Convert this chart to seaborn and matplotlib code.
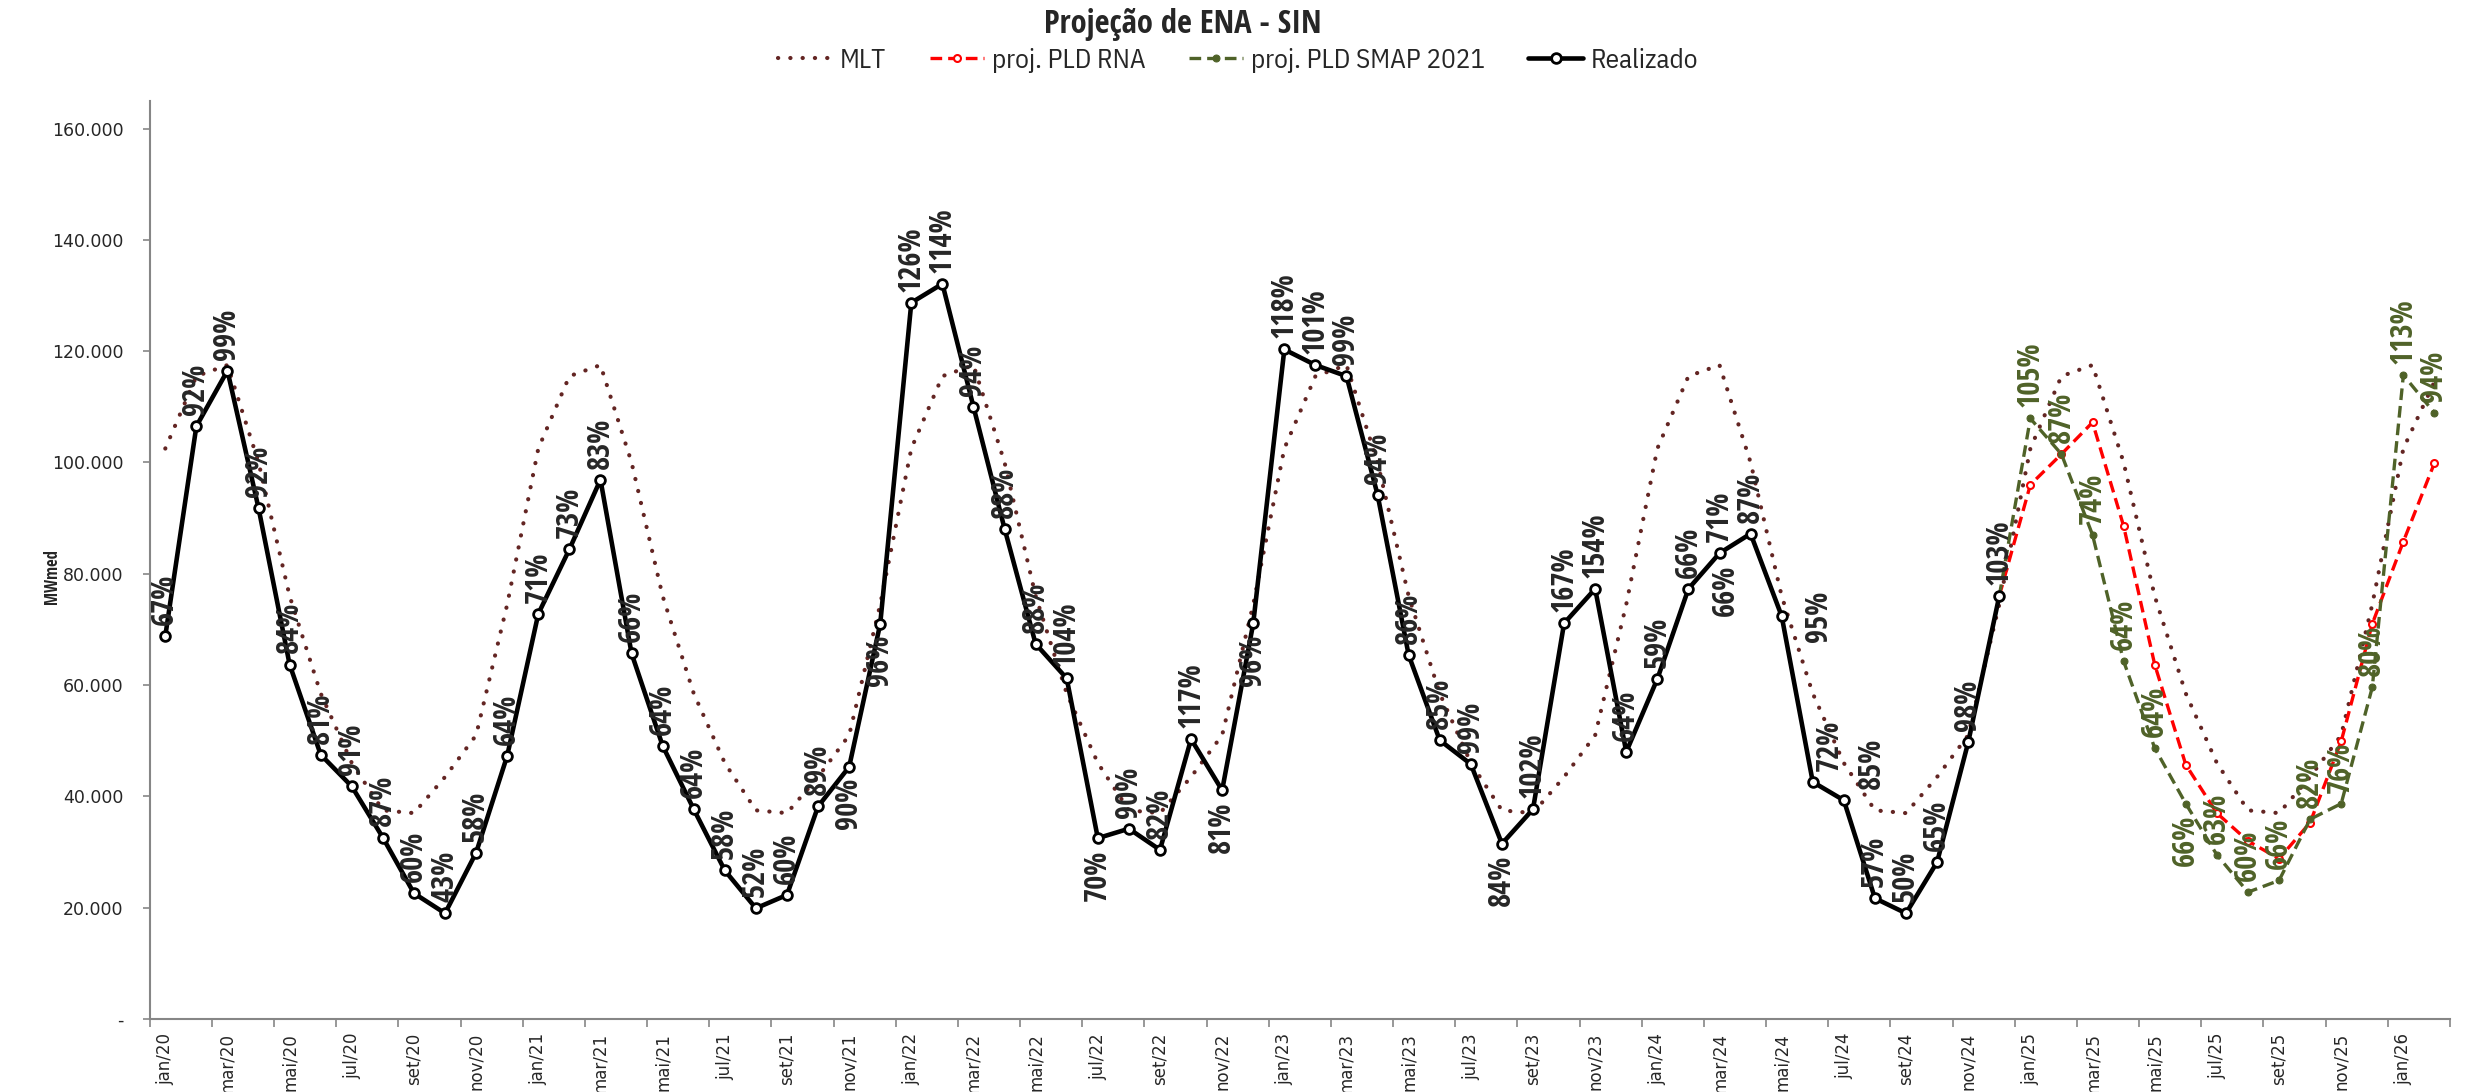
import numpy as np
import pandas as pd
import seaborn as sns
import matplotlib.pyplot as plt
from matplotlib import font_manager

sns.set_style('white')
plt.rcParams['font.family'] = ['DejaVu Sans']

# fontes estreitas (parecidas com as do Excel)
disponiveis = {f.name for f in font_manager.fontManager.ttflist}
def escolhe(*nomes):
    return [n for n in nomes if n in disponiveis] + ['DejaVu Sans']
fonte_rotulo = escolhe('Open Sans Condensed', 'Liberation Sans Narrow')
fonte_legenda = escolhe('IBM Plex Sans Condensed', 'Liberation Sans Narrow')

# eixo de meses (jan/20 a fev/26)
meses = ['jan', 'fev', 'mar', 'abr', 'mai', 'jun', 'jul', 'ago', 'set', 'out', 'nov', 'dez']
anos = ['20', '21', '22', '23', '24', '25', '26']
categorias = [m + '/' + a for a in anos for m in meses][:74]

# MLT (MWmed)
mlt = [102500, 115500, 117500, 100000, 76000, 58500, 46000, 37500, 37000, 43500, 51000, 74500,
       102500, 115500, 117500, 100000, 76000, 58500, 46000, 37500, 37000, 43500, 51000, 74500,
       102500, 115500, 117500, 100000, 76000, 58500, 46000, 37500, 37000, 43500, 51000, 74500,
       102500, 115500, 117500, 100000, 76000, 58500, 46000, 37500, 37000, 43500, 51000, 74500,
       102500, 115500, 117500, 100000, 76000, 58500, 46000, 37500, 37000, 43500, 51000, 74500,
       102500, 115500, 117500, 100000, 76000, 58500, 46000, 37500, 37000, 43500, 51000, 74500,
       102500, 114500]

# ENA realizada (jan/20 a dez/24)
realizado = [68800, 106500, 116500, 91800, 63700, 47500, 41800, 32600, 22600, 19000, 29900, 47300,
             72800, 84400, 96900, 65700, 49100, 37700, 26700, 19900, 22300, 38200, 45300, 71000,
             128700, 132100, 110000, 88100, 67400, 61200, 32500, 34200, 30400, 50300, 41100, 71100,
             120300, 117500, 115500, 94200, 65400, 50100, 45800, 31500, 37700, 71100, 77300, 48000,
             61100, 77300, 83700, 87200, 72400, 42600, 39300, 21700, 19000, 28200, 49700, 76000]
realizado_pct = ['67%', '92%', '99%', '92%', '84%', '81%', '91%', '87%', '60%', '43%', '58%', '64%',
                 '71%', '73%', '83%', '66%', '64%', '64%', '58%', '52%', '60%', '89%', '90%', '96%',
                 '126%', '114%', '94%', '88%', '88%', '104%', '70%', '90%', '82%', '117%', '81%', '96%',
                 '118%', '101%', '99%', '94%', '86%', '85%', '99%', '84%', '102%', '167%', '154%', '64%',
                 '59%', '66%', '71%', '87%', '95%', '72%', '85%', '57%', '50%', '65%', '98%', '103%']

# projecoes (dez/24 a fev/26)
proj_rna = [76000, 96000, 101500, 107200, 88600, 63700, 45700, 37000, 32000, 28800, 35300, 49900,
            71000, 85800, 99900]
proj_smap = [76000, 107900, 101500, 87000, 64300, 48700, 38700, 29500, 22800, 24900, 35900, 38700,
             59600, 115700, 108900]
smap_pct = ['105%', '87%', '74%', '64%', '64%', '66%', '63%', '60%', '66%', '82%', '76%', '80%',
            '113%', '94%']

y_ticks = [0, 20000, 40000, 60000, 80000, 100000, 120000, 140000, 160000]
y_labels = ['-', '20.000', '40.000', '60.000', '80.000', '100.000', '120.000', '140.000', '160.000']

idx = np.arange(len(categorias))
ini = len(realizado) - 1
df_mlt = pd.DataFrame({'mes': idx, 'ena': mlt})
df_real = pd.DataFrame({'mes': idx[:len(realizado)], 'ena': realizado})
df_rna = pd.DataFrame({'mes': idx[ini:ini + len(proj_rna)], 'ena': proj_rna})
df_smap = pd.DataFrame({'mes': idx[ini:ini + len(proj_smap)], 'ena': proj_smap})

fig = plt.figure(figsize=(24.71, 10.92), dpi=100)
ax = fig.add_axes([0.0606, 0.0668, 0.9309, 0.841])

cinza = '#868686'
verde = '#4F6228'
tam = 22

sns.lineplot(data=df_mlt, x='mes', y='ena', ax=ax, color='#632523', lw=3.0,
             linestyle=(0, (0.05, 2.9)), dash_capstyle='round', label='MLT', zorder=2)
sns.lineplot(data=df_rna, x='mes', y='ena', ax=ax, color='#FF0000', lw=2.4,
             linestyle=(0, (3.5, 1.8)), marker='o', markersize=5, markerfacecolor='white',
             markeredgecolor='#FF0000', markeredgewidth=1.5, label='proj. PLD RNA', zorder=3)
sns.lineplot(data=df_smap, x='mes', y='ena', ax=ax, color=verde, lw=2.4,
             linestyle=(0, (3.5, 1.8)), marker='o', markersize=5, markerfacecolor=verde,
             markeredgecolor=verde, label='proj. PLD SMAP 2021', zorder=3)
sns.lineplot(data=df_real, x='mes', y='ena', ax=ax, color='black', lw=3.3,
             marker='o', markersize=7, markerfacecolor='white', markeredgecolor='black',
             markeredgewidth=2, label='Realizado', zorder=4)

# rotulos do realizado
abaixo = {22, 23, 30, 34, 35, 43}
desloc = {52: 1.2, 53: 0.55, 54: 0.9}
for i, (v, t) in enumerate(zip(realizado, realizado_pct)):
    dx = desloc.get(i, 0)
    if i == 52:
        ax.text(i + dx, v, t, rotation=90, ha='center', va='center', fontsize=tam,
                fontweight='bold', family=fonte_rotulo, zorder=6)
        continue
    dy = -8 if i in abaixo else 8
    ax.annotate(t, (i + dx, v), xytext=(0, dy), textcoords='offset points', rotation=90,
                ha='center', va='top' if i in abaixo else 'bottom', fontsize=tam,
                fontweight='bold', family=fonte_rotulo, zorder=6)
# rotulo solto perto de mar/24
ax.annotate('66%', (50.2, realizado[50]), xytext=(0, -8), textcoords='offset points',
            rotation=90, ha='center', va='top', fontsize=tam, fontweight='bold',
            family=fonte_rotulo, zorder=6)

# rotulos da projecao SMAP
for j, t in enumerate(smap_pct):
    i = ini + 1 + j
    v = proj_smap[j + 1]
    baixo = (i == 65)
    ax.annotate(t, (i, v), xytext=(0, -8 if baixo else 8), textcoords='offset points',
                rotation=90, ha='center', va='top' if baixo else 'bottom', fontsize=tam,
                fontweight='bold', family=fonte_rotulo, color=verde, zorder=6)

ax.set_xlim(-0.5, len(categorias) - 0.5)
ax.set_ylim(0, 165000)
ax.set_yticks(y_ticks)
ax.set_yticklabels(y_labels, fontsize=12.5)
ax.set_xticks(np.arange(-0.5, len(categorias), 2))
ax.set_xticklabels([])
ax.set_xticks(np.arange(0, len(categorias), 2), minor=True)
ax.set_xticklabels(categorias[::2], minor=True, rotation=90, fontsize=12)
ax.tick_params(axis='y', which='major', length=5, width=1.2, color=cinza, pad=14, left=True)
ax.tick_params(axis='x', which='major', length=6, width=1.2, color=cinza, bottom=True)
ax.tick_params(axis='x', which='minor', length=0, pad=10)
ax.set_xlabel('')
ax.set_ylabel('')
for s in ['top', 'right']:
    ax.spines[s].set_visible(False)
for s in ['left', 'bottom']:
    ax.spines[s].set_color(cinza)
    ax.spines[s].set_linewidth(1.5)

ax.get_legend().remove()
h, l = ax.get_legend_handles_labels()
fig.legend(h, l, loc='center', bbox_to_anchor=(0.501, 0.945), ncol=4, frameon=False,
           prop={'family': fonte_legenda, 'size': 19.5}, handlelength=2.0, columnspacing=1.6,
           handletextpad=0.3)

fig.text(0.4788, 0.978, 'Projeção de ENA - SIN', ha='center', va='center', fontsize=23.5,
         fontweight='bold', family=fonte_rotulo)
fig.text(0.021, 0.472, 'MWmed', rotation=90, ha='center', va='center', fontsize=12,
         fontweight='bold', family=fonte_rotulo)

fig.savefig('out.png', dpi=100)
